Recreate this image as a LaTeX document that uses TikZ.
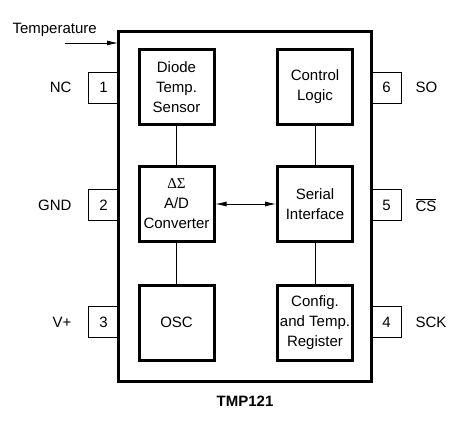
\documentclass[tikz,border=0pt]{standalone}
\usepackage{fontspec}
\setmainfont{Liberation Sans}
\newfontfamily\serifgreek{Liberation Serif}
\usetikzlibrary{arrows.meta}
\begin{document}
\begin{tikzpicture}[x=1pt,y=-1pt,
  every node/.style={font=\fontsize{15}{20}\selectfont},
  blk/.style={draw,line width=3pt,minimum width=75pt,minimum height=75pt,align=center,inner sep=0pt},
  pin/.style={draw,line width=0.8pt,minimum width=30pt,minimum height=31pt,inner sep=0pt},
  wire/.style={line width=0.8pt}]
\useasboundingbox (0,0) rectangle (473,422);
\fill[white] (0,0) rectangle (473,422);
% outer chip
\draw[line width=3pt] (118,32) rectangle (371,381);
\coordinate (chipedge) at (118,43);
% blocks
\node[blk] (diode) at (176.5,87) {Diode\\Temp.\\Sensor};
\node[blk] (ctrl) at (315,87) {Control\\Logic};
\node[blk] (adc) at (176.5,204) {{\serifgreek ΔΣ}\\A/D\\Converter};
\node[blk] (serial) at (315,204) {Serial\\Interface};
\node[blk] (osc) at (176.5,322.5) {OSC};
\node[blk] (cfg) at (315,322.5) {Config.\\and Temp.\\Register};
% connections
\draw[wire] (diode.south) -- (adc.north);
\draw[wire] (adc.south) -- (osc.north);
\draw[wire] (ctrl.south) -- (serial.north);
\draw[wire] (serial.south) -- (cfg.north);
\draw[wire,{Latex[length=11pt,width=5pt]}-{Latex[length=11pt,width=5pt]}] (adc.east) -- (serial.east -| serial.west);
% pins
\node[pin] (p1) at (103.5,87.5) {1};
\node[pin] (p2) at (103.5,205) {2};
\node[pin] (p3) at (103.5,322) {3};
\node[pin] (p6) at (386.5,87.5) {6};
\node[pin] (p5) at (386.5,205) {5};
\node[pin] (p4) at (386.5,322) {4};
\node[anchor=east] (nc) at (75,87.5) {NC};
\node[anchor=east] (gnd) at (75,205) {GND};
\node[anchor=east] (vp) at (75,322) {V+};
\node[anchor=west] (so) at (412,87.5) {SO};
\node[anchor=west] (cs) at (412,205) {$\overline{\mbox{CS}}$};
\node[anchor=west] (sck) at (412,322) {SCK};
% temperature
\node[anchor=west] (temp) at (9,30) {Temperature};
\coordinate (tstart) at (65,43);
\draw[wire,-{Latex[length=11pt,width=5pt]}] (tstart) -- (chipedge);
% title
\node[font=\bfseries\fontsize{15}{18}\selectfont] (title) at (245,401) {TMP121};
\end{tikzpicture}
\end{document}
